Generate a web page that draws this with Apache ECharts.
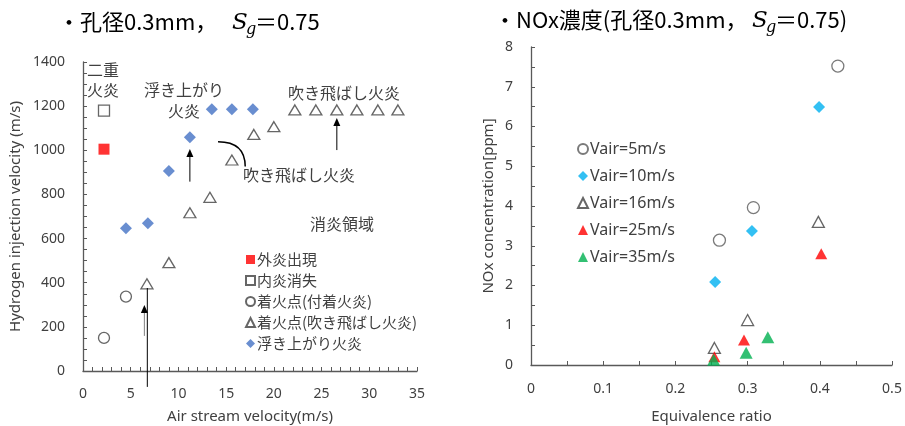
<!DOCTYPE html>
<html>
<head>
<meta charset="utf-8">
<script src="https://cdn.jsdelivr.net/npm/echarts@6/dist/echarts.min.js"></script>
<style>
  html, body { margin: 0; padding: 0; background: #fff; }
  #chart { width: 905px; height: 426px; }
</style>
</head>
<body>
<div id="chart"></div>
<script>
// ---- Left chart: flame regimes vs air stream velocity ----
const outerFlame   = [[2.2, 1005]];                       // 外炎出現
const innerLost    = [[2.2, 1180]];                       // 内炎消失
const attachedIgn  = [[2.2, 150], [4.5, 337]];            // 着火点(付着火炎)
const blownIgn     = [[6.7, 395], [9.0, 491], [11.2, 717], [13.3, 787], [15.6, 956],
                      [17.9, 1072], [20.0, 1107], [22.2, 1183], [24.4, 1183], [26.6, 1183],
                      [28.7, 1183], [30.9, 1183], [33.0, 1183]]; // 着火点(吹き飛ばし火炎)
const liftedFlame  = [[4.5, 647], [6.8, 669], [9.0, 906], [11.2, 1059], [13.5, 1186],
                      [15.6, 1186], [17.8, 1186]];         // 浮き上がり火炎
const leftNames = ['外炎出現', '内炎消失', '着火点(付着火炎)', '着火点(吹き飛ばし火炎)', '浮き上がり火炎'];

// ---- Right chart: NOx concentration vs equivalence ratio ----
const vair5  = [[0.261, 3.14], [0.308, 3.96], [0.425, 7.52]];
const vair10 = [[0.255, 2.09], [0.306, 3.37], [0.399, 6.49]];
const vair16 = [[0.254, 0.43], [0.300, 1.13], [0.398, 3.60]];
const vair25 = [[0.254, 0.21], [0.295, 0.63], [0.402, 2.80]];
const vair35 = [[0.253, 0.13], [0.298, 0.31], [0.328, 0.70]];
const rightNames = ['Vair=5m/s', 'Vair=10m/s', 'Vair=16m/s', 'Vair=25m/s', 'Vair=35m/s'];

const AX = '#595959';
const TXT = '#404040';
const LATIN = 'Noto Sans';
const CJK = 'Noto Sans CJK JP';

function axisCommon() {
  return {
    axisLine: { show: true, lineStyle: { color: AX, width: 1.3 } },
    axisTick: { show: true, inside: true, length: 4, lineStyle: { color: AX } },
    splitLine: { show: false },
    nameTextStyle: { color: TXT, fontFamily: LATIN, fontSize: 15 }
  };
}
function tickLabels(margin) {
  return { color: TXT, fontFamily: LATIN, fontSize: 14, margin: margin,
           formatter: function (v) { return String(v); } };
}
function minor(n) {
  return { show: true, splitNumber: n, length: 4, lineStyle: { color: AX } };
}

const openStyle = { color: '#fff', borderColor: TXT, borderWidth: 1.3 };

const option = {
  animation: false,
  backgroundColor: '#fff',
  grid: [
    { left: 83, right: 488, top: 62, bottom: 55, outerBoundsMode: 'none', containLabel: false },
    { left: 531, right: 13, top: 47, bottom: 61, outerBoundsMode: 'none', containLabel: false }
  ],
  xAxis: [
    Object.assign(axisCommon(), {
      gridIndex: 0, type: 'value', min: 0, max: 35, interval: 5,
      minorTick: minor(5), axisLabel: tickLabels(16),
      name: 'Air stream velocity(m/s)', nameLocation: 'middle', nameGap: 38
    }),
    Object.assign(axisCommon(), {
      gridIndex: 1, type: 'value', min: 0, max: 0.5, interval: 0.1,
      minorTick: minor(2), axisLabel: tickLabels(17),
      name: 'Equivalence ratio', nameLocation: 'middle', nameGap: 44
    })
  ],
  yAxis: [
    Object.assign(axisCommon(), {
      gridIndex: 0, type: 'value', min: 0, max: 1400, interval: 200,
      minorTick: minor(4), axisLabel: tickLabels(18),
      name: 'Hydrogen injection velocity (m/s)', nameLocation: 'middle', nameGap: 60
    }),
    Object.assign(axisCommon(), {
      gridIndex: 1, type: 'value', min: 0, max: 8, interval: 1,
      minorTick: minor(2), axisLabel: tickLabels(18),
      name: 'NOx concentration[ppm]', nameLocation: 'middle', nameGap: 35
    })
  ],
  legend: [
    {
      data: leftNames, orient: 'vertical', left: 240, top: 247,
      itemWidth: 9, itemHeight: 9, itemGap: 6,
      textStyle: { color: TXT, fontFamily: CJK, fontSize: 15, padding: [0, 0, 0, -3] },
      selectedMode: false
    },
    {
      data: rightNames, orient: 'vertical', left: 572, top: 136,
      itemWidth: 10, itemHeight: 10, itemGap: 11,
      textStyle: { color: TXT, fontFamily: LATIN, fontSize: 16, padding: [0, 0, 0, -3] },
      selectedMode: false
    }
  ],
  series: [
    { name: '外炎出現', type: 'scatter', xAxisIndex: 0, yAxisIndex: 0, symbol: 'rect', symbolSize: 11,
      itemStyle: { color: '#FF0000' }, data: outerFlame },
    { name: '内炎消失', type: 'scatter', xAxisIndex: 0, yAxisIndex: 0, symbol: 'rect', symbolSize: 11,
      itemStyle: openStyle, data: innerLost },
    { name: '着火点(付着火炎)', type: 'scatter', xAxisIndex: 0, yAxisIndex: 0, symbol: 'circle', symbolSize: 11,
      itemStyle: openStyle, data: attachedIgn },
    { name: '着火点(吹き飛ばし火炎)', type: 'scatter', xAxisIndex: 0, yAxisIndex: 0, symbol: 'triangle', symbolSize: [12, 10],
      itemStyle: openStyle, data: blownIgn },
    { name: '浮き上がり火炎', type: 'scatter', xAxisIndex: 0, yAxisIndex: 0, symbol: 'diamond', symbolSize: 12,
      itemStyle: { color: '#4472C4' }, data: liftedFlame },

    { name: 'Vair=5m/s', type: 'scatter', xAxisIndex: 1, yAxisIndex: 1, symbol: 'circle', symbolSize: 12,
      itemStyle: { color: '#fff', borderColor: '#595959', borderWidth: 1.3 }, data: vair5 },
    { name: 'Vair=10m/s', type: 'scatter', xAxisIndex: 1, yAxisIndex: 1, symbol: 'diamond', symbolSize: 12,
      itemStyle: { color: '#00B0F0' }, data: vair10 },
    { name: 'Vair=16m/s', type: 'scatter', xAxisIndex: 1, yAxisIndex: 1, symbol: 'triangle', symbolSize: [12, 11],
      itemStyle: { color: '#fff', borderColor: '#404040', borderWidth: 1.3 }, data: vair16 },
    { name: 'Vair=25m/s', type: 'scatter', xAxisIndex: 1, yAxisIndex: 1, symbol: 'triangle', symbolSize: [12, 11],
      itemStyle: { color: '#FF0000' }, data: vair25 },
    { name: 'Vair=35m/s', type: 'scatter', xAxisIndex: 1, yAxisIndex: 1, symbol: 'triangle', symbolSize: [13, 12],
      itemStyle: { color: '#00B050' }, data: vair35 }
  ]
};

const chart = echarts.init(document.getElementById('chart'), null, { renderer: 'canvas' });
chart.setOption(option);

// Annotation helpers: positions given in the left chart's data units
function p(x, y) { return chart.convertToPixel({ xAxisIndex: 0, yAxisIndex: 0 }, [x, y]); }

function upArrow(x, yFrom, yTo, lineColor) {
  const a = p(x, yFrom), b = p(x, yTo);
  return [
    { type: 'line', shape: { x1: a[0], y1: a[1], x2: b[0], y2: b[1] + 5 },
      style: { stroke: lineColor || '#000', lineWidth: 1 }, z: 10 },
    { type: 'polygon', shape: { points: [[b[0], b[1]], [b[0] - 3.5, b[1] + 8], [b[0] + 3.5, b[1] + 8]] },
      style: { fill: '#000' }, z: 10 }
  ];
}

function label(text, cx, cy, size, family) {
  return { type: 'text', x: cx, y: cy, z: 10,
    style: { text: text, fill: TXT, font: (size || 16) + 'px "' + (family || CJK) + '"',
             align: 'center', verticalAlign: 'middle' } };
}

function titleParts(x0, y, lead, tail, sX) {
  const font = '22px "' + CJK + '"';
  return [
    { type: 'text', x: x0, y: y, style: { text: lead, fill: '#000', font: font, verticalAlign: 'middle' } },
    { type: 'text', x: sX, y: y + 1, style: { text: 'S', fill: '#000', font: 'italic 23px "DejaVu Serif"', verticalAlign: 'middle' } },
    { type: 'text', x: sX + 14, y: y + 8, style: { text: 'g', fill: '#000', font: 'italic 16px "DejaVu Serif"', verticalAlign: 'middle' } },
    { type: 'text', x: sX + 23, y: y, style: { text: tail, fill: '#000', font: font, verticalAlign: 'middle' } }
  ];
}

const c0 = p(14.15, 1039), c1 = p(17.0, 1039), c2 = p(17.0, 926);
const lineTop = p(6.74, 376), lineBot = p(6.74, -72);

const graphics = [].concat(
  titleParts(58, 22, '・孔径0.3mm，', '＝0.75', 232),
  titleParts(494, 20, '・NOx濃度(孔径0.3mm，', '＝0.75)', 752),
  upArrow(26.6, 1001, 1146),
  upArrow(11.2, 858, 1006),
  upArrow(6.43, 159, 299, '#808080'),
  [
    { type: 'line', shape: { x1: lineTop[0], y1: lineTop[1], x2: lineBot[0], y2: lineBot[1] },
      style: { stroke: '#000', lineWidth: 1 }, z: 10 },
    { type: 'bezierCurve', shape: { x1: c0[0], y1: c0[1], cpx1: c1[0], cpy1: c1[1], x2: c2[0], y2: c2[1] },
      style: { stroke: '#000', lineWidth: 1.5, fill: null }, z: 10 },
    label('二重', 103, 70),
    label('火炎', 103, 90),
    label('浮き上がり', 184, 90),
    label('火炎', 184, 111),
    label('吹き飛ばし火炎', 344, 93),
    label('吹き飛ばし火炎', 299, 175),
    label('消炎領域', 342, 224)
  ]
);

chart.setOption({ graphic: graphics });
</script>
</body>
</html>
